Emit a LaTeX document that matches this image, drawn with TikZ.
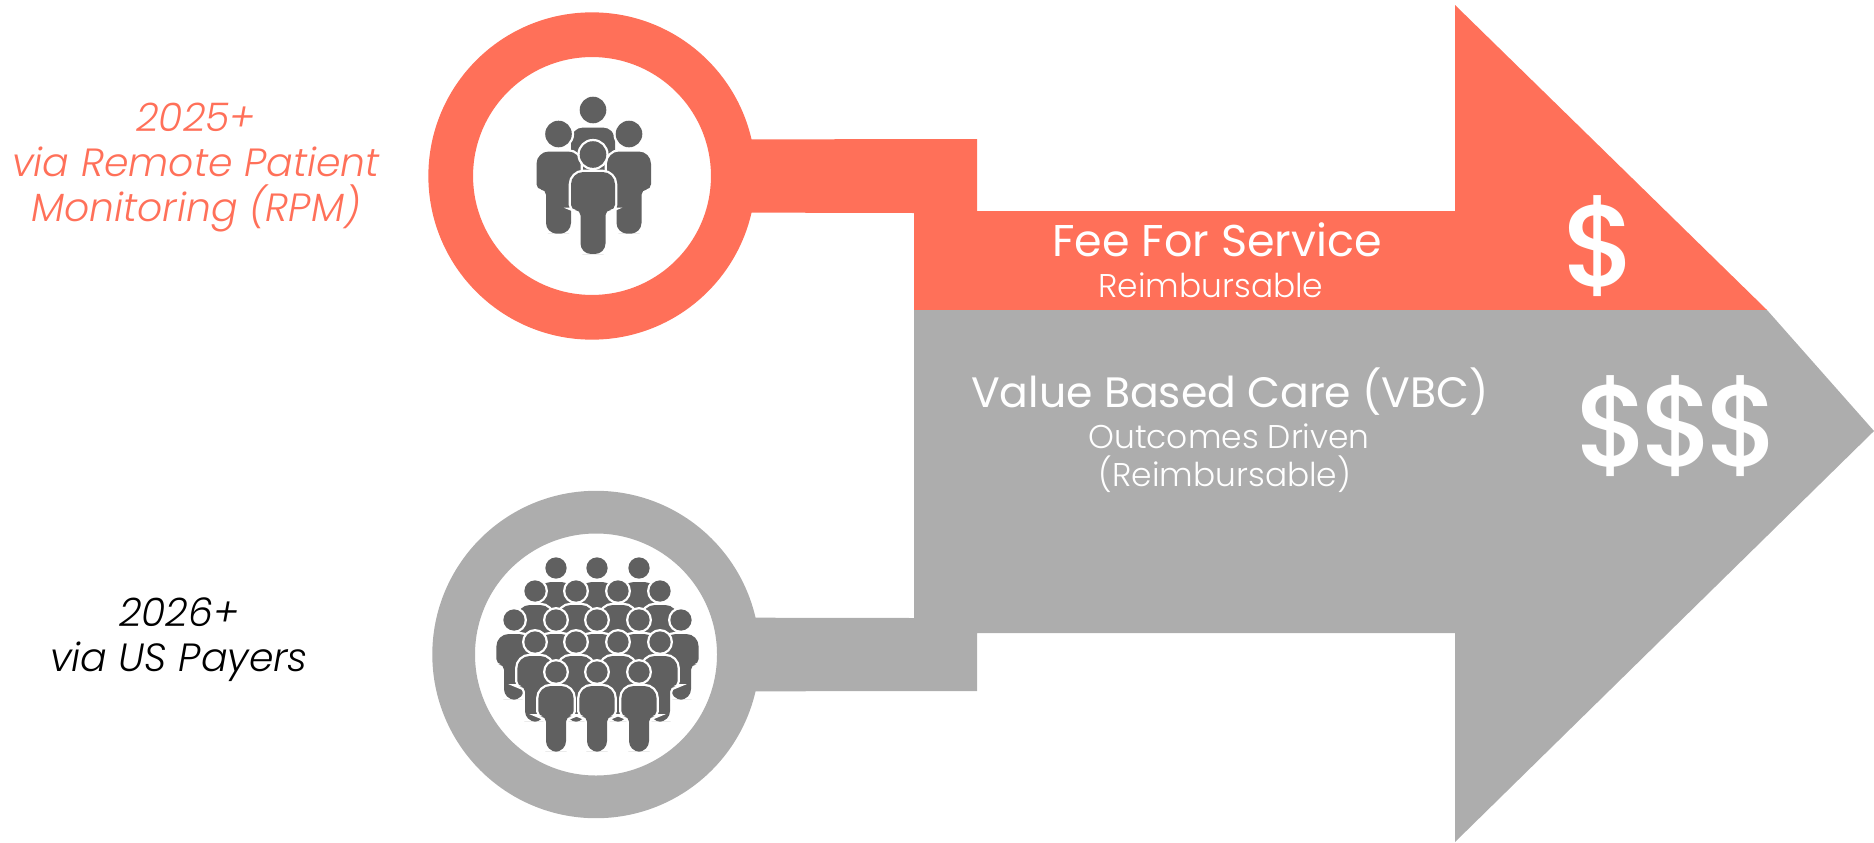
\documentclass[tikz,border=0pt]{standalone}
\usepackage{fontspec}
\setmainfont{Poppins}[UprightFont=* Light,ItalicFont=* Light Italic]
\newfontfamily\titulofont{Poppins}
\newfontfamily\dollarfont{Poppins Medium}
\definecolor{coral}{HTML}{FF7059}
\definecolor{cinza}{HTML}{ADADAD}
\definecolor{figura}{HTML}{606060}
\tikzset{
	ring/.style={draw, circle, fill=white, inner sep=0pt, outer sep=0pt},
	silhueta/.style={fill=figura, preaction={draw=white, line width=1.3pt}},
	titulo/.style={text=white, font=\titulofont\fontsize{12.1}{14}\selectfont},
	subtitulo/.style={text=white, font=\fontsize{9.35}{11}\selectfont},
	moeda/.style={text=white, font=\dollarfont\fontsize{33}{33}\selectfont},
	legenda/.style={align=center, font=\itshape\fontsize{11.2}{12.8}\selectfont},
	person/.pic={
		\fill[silhueta] (0., 0.) circle (.133);
		\fill[silhueta, rounded corners=3pt] (0., -.995) -- (-.125, -.995) [rounded corners=1.5pt] -- (-.125, -.555) -- (-.22, -.555) [rounded corners=3.5pt] -- (-.22, -.175) -- (.22, -.175) [rounded corners=1.5pt] -- (.22, -.555) -- (.125, -.555) [rounded corners=3pt] -- (.125, -.995) -- cycle;
	}
}
\begin{document}
\begin{tikzpicture}

	\useasboundingbox (0., 0.) rectangle (18.74, 8.42);

	% Aneis

	\draw node[ring, draw=coral, line width=.447cm, minimum size=2.826cm] (no1) at (5.92, 6.66) {};

	\draw node[ring, draw=cinza, line width=.427cm, minimum size=2.847cm] (no2) at (5.96, 1.875) {};

	% Seta

	\fill[coral] (no1.15) -- (9.77, 7.03) -- (9.77, 6.31) -- (14.55, 6.31) -- (14.55, 8.37) -- (17.67, 5.32) -- (9.14, 5.32) -- (9.14, 6.29) -- (no1.-15) -- cycle;

	\fill[cinza] (9.14, 5.32) -- (17.67, 5.32) -- (18.74, 4.11) -- (14.55, 0.) -- (14.55, 2.09) -- (9.77, 2.09) -- (9.77, 1.51) -- (no2.-15) -- (no2.15) -- (9.14, 2.24) -- cycle;

	% Figuras 1

	\pic at (5.93, 7.32) {person};

	\pic at (5.585, 7.08) {person};

	\pic at (6.29, 7.08) {person};

	\pic at (5.93, 6.875) {person};

	% Figuras 2

	\pic[scale=.8] at (5.56, 2.74) {person};
	\pic[scale=.8] at (5.97, 2.74) {person};
	\pic[scale=.8] at (6.39, 2.74) {person};

	\pic[scale=.8] at (5.35, 2.51) {person};
	\pic[scale=.8] at (5.76, 2.51) {person};
	\pic[scale=.8] at (6.18, 2.51) {person};
	\pic[scale=.8] at (6.60, 2.51) {person};

	\pic[scale=.8] at (5.14, 2.22) {person};
	\pic[scale=.8] at (5.56, 2.22) {person};
	\pic[scale=.8] at (5.97, 2.22) {person};
	\pic[scale=.8] at (6.39, 2.22) {person};
	\pic[scale=.8] at (6.81, 2.22) {person};

	\pic[scale=.8] at (5.35, 2.00) {person};
	\pic[scale=.8] at (5.76, 2.00) {person};
	\pic[scale=.8] at (6.18, 2.00) {person};
	\pic[scale=.8] at (6.60, 2.00) {person};

	\pic[scale=.8] at (5.56, 1.70) {person};
	\pic[scale=.8] at (5.97, 1.70) {person};
	\pic[scale=.8] at (6.39, 1.70) {person};

	% Textos

	\draw node[titulo, font=\titulofont\fontsize{12.65}{14}\selectfont, anchor=base] (no3) at (12.17, 5.86) {Fee For Service};

	\draw node[subtitulo, anchor=base] (no4) at (12.11, 5.45) {Reimbursable};

	\draw node[titulo, anchor=base] (no5) at (12.30, 4.35) {Value Based Care (VBC)};

	\draw node[subtitulo, anchor=base] (no6) at (12.29, 3.94) {Outcomes Driven};

	\draw node[subtitulo, anchor=base] (no7) at (12.25, 3.56) {(Reimbursable)};

	\draw node[moeda] (no8) at (16.00, 5.96) {\$};

	\draw node[moeda] (no9) at (16.78, 4.16) {\$\kern-3pt\$\kern-3pt\$};

	\draw node[legenda, text=coral] (no10) at (1.96, 6.74) {2025+\\via Remote Patient\\Monitoring (RPM)};

	\draw node[legenda, text=black] (no11) at (1.79, 2.02) {2026+\\via US Payers};

\end{tikzpicture}
\end{document}
